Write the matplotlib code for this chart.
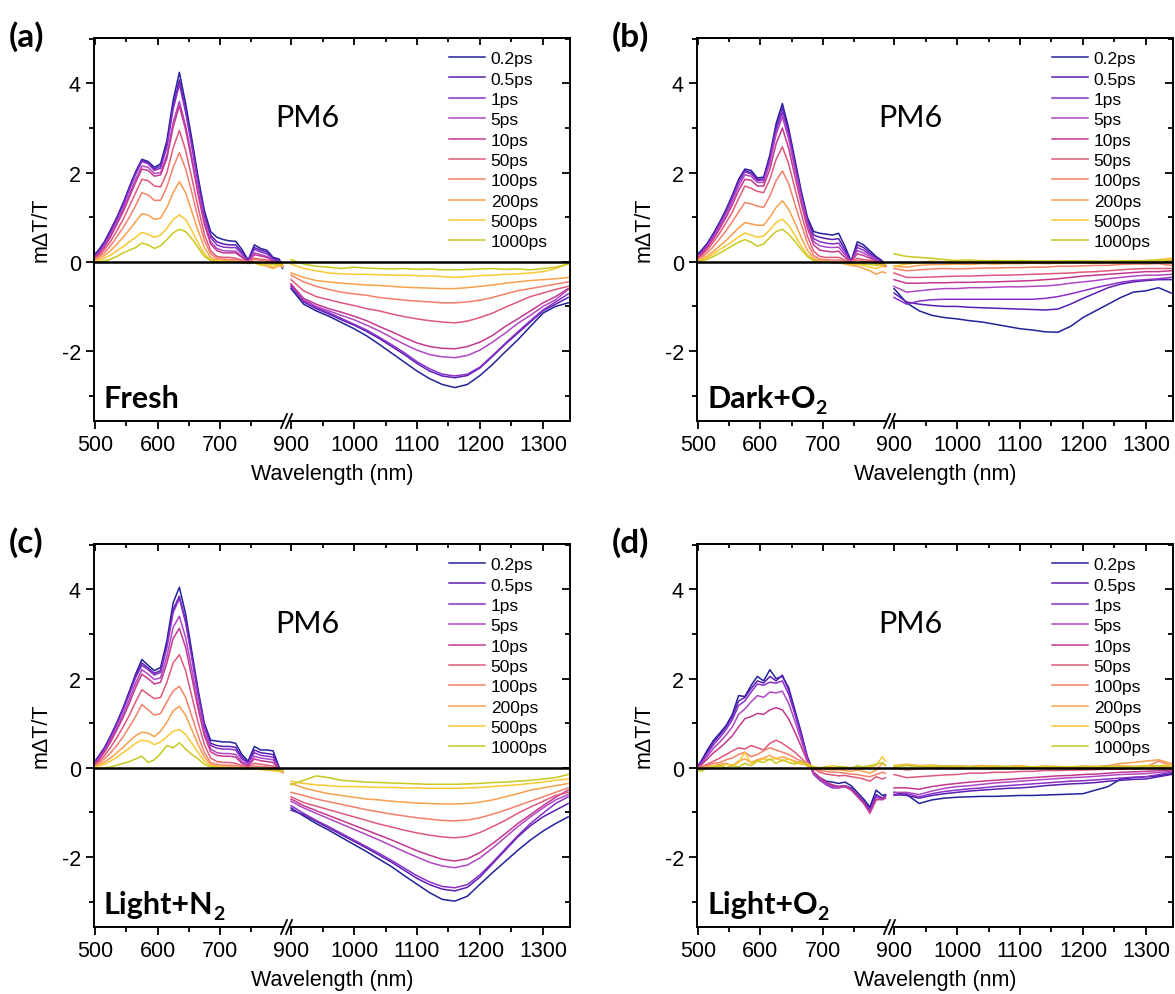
import matplotlib.pyplot as plt
from matplotlib.lines import Line2D
from matplotlib.patches import Rectangle
from matplotlib.ticker import MultipleLocator

plt.rcParams['font.family'] = ['Liberation Sans', 'DejaVu Sans']
plt.rcParams['axes.unicode_minus'] = False

# delay times and their colours
TIMES = ['0.2ps', '0.5ps', '1ps', '5ps', '10ps', '50ps', '100ps', '200ps', '500ps', '1000ps']
COLORS = ['#22229a', '#5a1fb4', '#8a30c8', '#b046c4', '#c43890',
          '#e0587a', '#f5806a', '#f8a04c', '#f9c832', '#c8c81e']

# wavelength grids (nm) of the visible and NIR probe windows
VIS_WL = [500, 505, 515, 525, 535, 545, 555, 565,
          575, 585, 595, 605, 615, 625, 635, 645,
          655, 665, 675, 685, 695, 705, 715, 725,
          735, 745, 755, 765, 775, 785, 795, 800]
NIR_WL = [900, 920, 940, 960, 980, 1000, 1020, 1040,
          1060, 1080, 1100, 1120, 1140, 1160, 1180, 1200,
          1220, 1240, 1260, 1280, 1300, 1320, 1340]

# (a) Fresh
FRESH_VIS = [
    [0.18, 0.25, 0.45, 0.72, 1.00, 1.32, 1.68, 2.02, 2.30, 2.25, 2.12, 2.20, 2.72, 3.62, 4.25, 3.55,
     2.75, 1.90, 1.15, 0.68, 0.55, 0.50, 0.47, 0.46, 0.28, 0.04, 0.38, 0.30, 0.26, 0.10, 0.06, -0.15],
    [0.15, 0.22, 0.42, 0.70, 0.98, 1.30, 1.66, 2.00, 2.28, 2.22, 2.08, 2.15, 2.62, 3.50, 4.08, 3.42,
     2.65, 1.82, 1.08, 0.60, 0.45, 0.40, 0.38, 0.38, 0.22, 0.02, 0.32, 0.26, 0.22, 0.08, 0.02, -0.12],
    [0.14, 0.20, 0.40, 0.66, 0.95, 1.26, 1.62, 1.96, 2.25, 2.20, 2.05, 2.10, 2.58, 3.42, 3.98, 3.35,
     2.58, 1.76, 1.02, 0.55, 0.38, 0.33, 0.32, 0.32, 0.18, 0.00, 0.28, 0.22, 0.18, 0.05, 0.00, -0.10],
    [0.12, 0.18, 0.36, 0.60, 0.88, 1.18, 1.52, 1.85, 2.15, 2.12, 1.98, 2.00, 2.40, 3.12, 3.60, 3.05,
     2.35, 1.58, 0.90, 0.45, 0.30, 0.25, 0.24, 0.24, 0.12, 0.00, 0.20, 0.16, 0.12, 0.02, -0.02, -0.10],
    [0.10, 0.16, 0.33, 0.56, 0.84, 1.12, 1.45, 1.78, 2.08, 2.05, 1.92, 1.95, 2.32, 3.02, 3.50, 2.96,
     2.26, 1.50, 0.84, 0.40, 0.25, 0.20, 0.20, 0.20, 0.10, 0.00, 0.16, 0.13, 0.10, 0.00, -0.03, -0.10],
    [0.08, 0.12, 0.27, 0.46, 0.70, 0.95, 1.25, 1.55, 1.85, 1.82, 1.70, 1.68, 2.00, 2.55, 2.95, 2.50,
     1.88, 1.22, 0.62, 0.25, 0.12, 0.10, 0.10, 0.08, 0.04, 0.00, 0.08, 0.06, 0.04, -0.02, -0.05, -0.08],
    [0.06, 0.10, 0.20, 0.36, 0.56, 0.77, 1.00, 1.26, 1.55, 1.50, 1.38, 1.38, 1.68, 2.12, 2.45, 2.08,
     1.55, 0.98, 0.48, 0.18, 0.08, 0.06, 0.05, 0.05, 0.02, 0.00, 0.05, 0.03, 0.02, -0.05, -0.08, -0.10],
    [0.04, 0.06, 0.14, 0.25, 0.40, 0.55, 0.72, 0.90, 1.08, 1.05, 0.95, 0.98, 1.22, 1.55, 1.80, 1.55,
     1.12, 0.70, 0.32, 0.10, 0.04, 0.03, 0.02, 0.02, 0.00, -0.02, 0.00, -0.05, -0.10, -0.15, -0.08, -0.12],
    [0.02, 0.03, 0.08, 0.15, 0.25, 0.34, 0.45, 0.55, 0.66, 0.62, 0.55, 0.60, 0.75, 0.95, 1.05, 0.95,
     0.70, 0.42, 0.18, 0.05, 0.02, 0.02, 0.00, 0.00, -0.02, -0.03, -0.02, -0.08, -0.05, -0.12, -0.06, -0.08],
    [0.00, 0.00, 0.02, 0.06, 0.12, 0.20, 0.26, 0.32, 0.42, 0.38, 0.30, 0.36, 0.50, 0.65, 0.73, 0.68,
     0.52, 0.32, 0.12, 0.03, 0.00, 0.00, 0.00, 0.00, -0.02, -0.04, -0.02, -0.05, -0.04, -0.06, -0.05, -0.06],
]
FRESH_NIR = [
    [-0.60, -0.95, -1.10, -1.22, -1.36, -1.50, -1.66, -1.85, -2.05, -2.25, -2.45, -2.62,
     -2.75, -2.82, -2.75, -2.55, -2.30, -2.02, -1.75, -1.45, -1.15, -1.00, -0.92],
    [-0.55, -0.90, -1.05, -1.17, -1.30, -1.42, -1.56, -1.72, -1.90, -2.08, -2.28, -2.45,
     -2.56, -2.60, -2.55, -2.38, -2.12, -1.85, -1.60, -1.35, -1.10, -0.95, -0.80],
    [-0.55, -0.88, -1.02, -1.14, -1.27, -1.40, -1.53, -1.69, -1.86, -2.04, -2.24, -2.40,
     -2.52, -2.56, -2.52, -2.36, -2.10, -1.83, -1.57, -1.32, -1.08, -0.90, -0.72],
    [-0.50, -0.85, -1.00, -1.10, -1.20, -1.30, -1.42, -1.55, -1.70, -1.85, -1.98, -2.08,
     -2.13, -2.15, -2.10, -1.98, -1.80, -1.60, -1.38, -1.20, -1.00, -0.85, -0.62],
    [-0.50, -0.82, -0.95, -1.05, -1.13, -1.22, -1.32, -1.45, -1.57, -1.70, -1.82, -1.90,
     -1.94, -1.95, -1.90, -1.80, -1.65, -1.45, -1.28, -1.10, -0.92, -0.78, -0.60],
    [-0.40, -0.65, -0.78, -0.85, -0.92, -0.98, -1.05, -1.10, -1.17, -1.23, -1.28, -1.32,
     -1.35, -1.37, -1.33, -1.25, -1.15, -1.02, -0.90, -0.78, -0.70, -0.62, -0.55],
    [-0.30, -0.45, -0.55, -0.62, -0.68, -0.72, -0.75, -0.80, -0.83, -0.86, -0.88, -0.90,
     -0.92, -0.92, -0.90, -0.86, -0.80, -0.72, -0.65, -0.60, -0.55, -0.50, -0.45],
    [-0.25, -0.35, -0.42, -0.45, -0.48, -0.50, -0.52, -0.53, -0.55, -0.57, -0.58, -0.59,
     -0.60, -0.60, -0.58, -0.55, -0.52, -0.48, -0.45, -0.42, -0.40, -0.38, -0.35],
    [-0.05, -0.15, -0.20, -0.25, -0.27, -0.28, -0.28, -0.29, -0.30, -0.30, -0.31, -0.32,
     -0.33, -0.35, -0.33, -0.31, -0.30, -0.28, -0.27, -0.25, -0.22, -0.15, -0.05],
    [0.05, -0.05, -0.10, -0.12, -0.15, -0.12, -0.14, -0.15, -0.16, -0.15, -0.17, -0.16,
     -0.18, -0.18, -0.17, -0.16, -0.15, -0.17, -0.16, -0.18, -0.15, -0.12, -0.05],
]

# (b) Dark + O2
DARK_O2_VIS = [
    [0.18, 0.25, 0.42, 0.65, 0.90, 1.18, 1.50, 1.85, 2.08, 2.05, 1.88, 1.90, 2.40, 3.10, 3.55, 3.00,
     2.30, 1.60, 1.00, 0.68, 0.64, 0.62, 0.60, 0.64, 0.35, 0.02, 0.45, 0.38, 0.25, 0.12, 0.02, -0.10],
    [0.15, 0.22, 0.40, 0.62, 0.88, 1.15, 1.47, 1.82, 2.05, 2.00, 1.85, 1.86, 2.35, 3.02, 3.45, 2.92,
     2.22, 1.55, 0.95, 0.60, 0.55, 0.52, 0.50, 0.52, 0.28, 0.00, 0.38, 0.32, 0.20, 0.10, 0.00, -0.10],
    [0.14, 0.20, 0.38, 0.60, 0.85, 1.12, 1.43, 1.78, 2.02, 1.97, 1.82, 1.83, 2.28, 2.94, 3.35, 2.85,
     2.15, 1.50, 0.90, 0.52, 0.45, 0.42, 0.40, 0.42, 0.22, 0.00, 0.32, 0.26, 0.16, 0.06, -0.02, -0.10],
    [0.12, 0.18, 0.35, 0.56, 0.80, 1.06, 1.36, 1.70, 1.95, 1.92, 1.78, 1.78, 2.22, 2.86, 3.25, 2.76,
     2.08, 1.44, 0.84, 0.45, 0.36, 0.33, 0.32, 0.33, 0.16, 0.00, 0.25, 0.20, 0.12, 0.04, -0.04, -0.10],
    [0.10, 0.16, 0.32, 0.52, 0.75, 1.00, 1.28, 1.60, 1.85, 1.83, 1.70, 1.70, 2.08, 2.65, 3.00, 2.55,
     1.92, 1.32, 0.76, 0.38, 0.26, 0.24, 0.22, 0.24, 0.10, 0.00, 0.18, 0.14, 0.08, 0.02, -0.05, -0.10],
    [0.08, 0.13, 0.27, 0.45, 0.65, 0.88, 1.12, 1.42, 1.70, 1.65, 1.58, 1.55, 1.85, 2.30, 2.58, 2.20,
     1.65, 1.10, 0.58, 0.24, 0.12, 0.10, 0.10, 0.10, 0.04, 0.00, 0.08, 0.05, 0.03, 0.00, -0.05, -0.08],
    [0.06, 0.10, 0.20, 0.35, 0.52, 0.70, 0.90, 1.12, 1.33, 1.30, 1.25, 1.22, 1.48, 1.82, 2.04, 1.75,
     1.30, 0.85, 0.42, 0.14, 0.06, 0.05, 0.04, 0.04, 0.02, 0.00, 0.04, 0.02, 0.00, -0.05, -0.08, -0.10],
    [0.04, 0.06, 0.13, 0.24, 0.36, 0.48, 0.62, 0.76, 0.88, 0.85, 0.82, 0.82, 1.00, 1.22, 1.37, 1.18,
     0.88, 0.55, 0.26, 0.08, 0.02, 0.02, 0.00, -0.02, -0.05, -0.08, -0.10, -0.15, -0.20, -0.28, -0.22, -0.25],
    [0.02, 0.04, 0.10, 0.18, 0.28, 0.36, 0.46, 0.56, 0.65, 0.60, 0.55, 0.58, 0.72, 0.88, 0.96, 0.82,
     0.60, 0.36, 0.16, 0.04, 0.00, 0.00, -0.02, -0.02, -0.04, -0.05, -0.06, -0.08, -0.12, -0.15, -0.10, -0.12],
    [0.00, 0.02, 0.06, 0.12, 0.20, 0.28, 0.36, 0.44, 0.50, 0.44, 0.35, 0.40, 0.55, 0.68, 0.73, 0.62,
     0.46, 0.28, 0.12, 0.03, 0.00, 0.00, -0.02, -0.02, -0.03, -0.04, -0.04, -0.05, -0.06, -0.08, -0.05, -0.06],
]
DARK_O2_NIR = [
    [-0.60, -0.92, -1.10, -1.20, -1.25, -1.28, -1.32, -1.35, -1.40, -1.45, -1.50, -1.53,
     -1.57, -1.58, -1.45, -1.25, -1.10, -0.95, -0.80, -0.68, -0.65, -0.58, -0.70],
    [-0.70, -0.90, -0.95, -0.98, -1.00, -1.00, -1.02, -1.03, -1.04, -1.05, -1.06, -1.07,
     -1.08, -1.06, -0.95, -0.82, -0.70, -0.58, -0.50, -0.45, -0.42, -0.40, -0.40],
    [-0.80, -0.95, -0.88, -0.85, -0.84, -0.84, -0.84, -0.84, -0.84, -0.84, -0.84, -0.84,
     -0.82, -0.78, -0.72, -0.65, -0.58, -0.52, -0.46, -0.42, -0.40, -0.38, -0.35],
    [-0.55, -0.68, -0.65, -0.62, -0.60, -0.60, -0.58, -0.58, -0.57, -0.56, -0.56, -0.55,
     -0.54, -0.52, -0.48, -0.45, -0.42, -0.38, -0.35, -0.32, -0.30, -0.30, -0.28],
    [-0.40, -0.48, -0.48, -0.47, -0.47, -0.46, -0.46, -0.45, -0.45, -0.44, -0.43, -0.42,
     -0.40, -0.38, -0.35, -0.32, -0.30, -0.28, -0.26, -0.24, -0.22, -0.22, -0.20],
    [-0.25, -0.35, -0.35, -0.34, -0.33, -0.32, -0.32, -0.31, -0.30, -0.30, -0.29, -0.28,
     -0.27, -0.26, -0.25, -0.23, -0.22, -0.20, -0.18, -0.16, -0.15, -0.15, -0.15],
    [-0.15, -0.20, -0.18, -0.16, -0.15, -0.16, -0.15, -0.14, -0.14, -0.13, -0.13, -0.12,
     -0.12, -0.10, -0.10, -0.09, -0.08, -0.08, -0.06, -0.05, -0.05, -0.04, -0.08],
    [-0.10, -0.12, -0.08, -0.06, -0.06, -0.05, -0.06, -0.04, -0.05, -0.04, -0.04, -0.03,
     -0.04, -0.03, -0.02, -0.02, -0.03, -0.02, -0.02, -0.01, 0.00, 0.02, 0.05],
    [-0.10, -0.05, -0.02, 0.02, 0.00, 0.03, 0.02, 0.03, 0.01, 0.02, 0.01, 0.02,
     0.00, 0.02, 0.01, 0.02, 0.00, 0.02, 0.01, 0.03, 0.02, 0.05, 0.08],
    [0.18, 0.12, 0.10, 0.08, 0.05, 0.03, 0.04, 0.02, 0.03, 0.02, 0.03, 0.01,
     0.02, 0.01, 0.02, 0.01, 0.02, 0.00, 0.02, 0.01, 0.03, 0.04, 0.02],
]

# (c) Light + N2
LIGHT_N2_VIS = [
    [0.15, 0.25, 0.45, 0.72, 1.02, 1.35, 1.72, 2.10, 2.43, 2.30, 2.18, 2.25, 2.85, 3.70, 4.05, 3.45,
     2.60, 1.75, 1.00, 0.62, 0.60, 0.58, 0.58, 0.55, 0.30, 0.15, 0.48, 0.40, 0.40, 0.38, 0.00, -0.10],
    [0.13, 0.23, 0.43, 0.70, 1.00, 1.32, 1.68, 2.06, 2.35, 2.24, 2.12, 2.18, 2.75, 3.55, 3.85, 3.30,
     2.50, 1.68, 0.95, 0.55, 0.50, 0.48, 0.48, 0.46, 0.24, 0.12, 0.40, 0.34, 0.32, 0.30, -0.02, -0.10],
    [0.12, 0.22, 0.42, 0.68, 0.98, 1.30, 1.65, 2.02, 2.30, 2.20, 2.08, 2.14, 2.70, 3.48, 3.80, 3.25,
     2.46, 1.64, 0.92, 0.50, 0.44, 0.42, 0.42, 0.40, 0.20, 0.10, 0.34, 0.28, 0.26, 0.24, -0.03, -0.10],
    [0.10, 0.18, 0.38, 0.62, 0.90, 1.20, 1.54, 1.90, 2.20, 2.10, 1.98, 2.02, 2.50, 3.15, 3.40, 2.92,
     2.20, 1.45, 0.80, 0.42, 0.34, 0.32, 0.32, 0.30, 0.14, 0.06, 0.26, 0.22, 0.20, 0.18, -0.04, -0.10],
    [0.09, 0.16, 0.35, 0.58, 0.85, 1.13, 1.45, 1.80, 2.10, 2.00, 1.88, 1.92, 2.35, 2.90, 3.13, 2.70,
     2.02, 1.32, 0.72, 0.36, 0.28, 0.26, 0.26, 0.24, 0.10, 0.04, 0.20, 0.16, 0.14, 0.12, -0.05, -0.10],
    [0.07, 0.12, 0.27, 0.46, 0.68, 0.92, 1.18, 1.48, 1.75, 1.65, 1.55, 1.58, 1.92, 2.35, 2.54, 2.18,
     1.60, 1.02, 0.52, 0.22, 0.14, 0.12, 0.12, 0.10, 0.05, 0.02, 0.10, 0.08, 0.06, 0.04, -0.05, -0.08],
    [0.05, 0.09, 0.20, 0.34, 0.50, 0.70, 0.92, 1.15, 1.42, 1.30, 1.18, 1.22, 1.48, 1.72, 1.83, 1.58,
     1.15, 0.72, 0.34, 0.12, 0.08, 0.06, 0.06, 0.05, 0.02, 0.00, 0.04, 0.03, 0.02, 0.00, -0.05, -0.08],
    [0.03, 0.06, 0.13, 0.22, 0.34, 0.46, 0.60, 0.72, 0.80, 0.78, 0.70, 0.82, 1.02, 1.28, 1.38, 1.18,
     0.85, 0.52, 0.24, 0.08, 0.04, 0.03, 0.02, 0.02, 0.00, -0.02, 0.00, -0.02, -0.04, -0.06, -0.08, -0.10],
    [0.02, 0.04, 0.08, 0.15, 0.24, 0.34, 0.44, 0.55, 0.62, 0.60, 0.52, 0.58, 0.70, 0.82, 0.86, 0.75,
     0.55, 0.34, 0.15, 0.04, 0.02, 0.02, 0.00, 0.00, -0.02, -0.03, -0.02, -0.04, -0.05, -0.06, -0.08, -0.10],
    [0.00, 0.00, 0.00, 0.02, 0.06, 0.10, 0.14, 0.20, 0.26, 0.12, 0.18, 0.32, 0.50, 0.45, 0.56, 0.42,
     0.30, 0.20, 0.08, 0.02, 0.00, 0.00, 0.00, -0.01, -0.02, -0.02, -0.03, -0.02, -0.03, -0.04, -0.05, -0.06],
]
LIGHT_N2_NIR = [
    [-0.90, -1.08, -1.25, -1.40, -1.56, -1.72, -1.88, -2.05, -2.22, -2.42, -2.61, -2.80,
     -2.95, -2.99, -2.88, -2.61, -2.35, -2.10, -1.85, -1.62, -1.42, -1.25, -1.10],
    [-0.95, -1.05, -1.20, -1.35, -1.50, -1.65, -1.80, -1.96, -2.12, -2.30, -2.48, -2.62,
     -2.72, -2.76, -2.68, -2.45, -2.15, -1.85, -1.55, -1.30, -1.10, -0.95, -0.80],
    [-0.85, -1.02, -1.18, -1.32, -1.47, -1.62, -1.77, -1.92, -2.08, -2.25, -2.42, -2.56,
     -2.66, -2.69, -2.62, -2.40, -2.12, -1.82, -1.52, -1.25, -1.02, -0.80, -0.65],
    [-0.75, -0.90, -1.02, -1.14, -1.26, -1.38, -1.50, -1.62, -1.75, -1.88, -2.00, -2.12,
     -2.20, -2.24, -2.18, -2.02, -1.80, -1.56, -1.32, -1.10, -0.90, -0.72, -0.60],
    [-0.70, -0.85, -0.96, -1.07, -1.18, -1.29, -1.40, -1.51, -1.62, -1.74, -1.86, -1.96,
     -2.05, -2.09, -2.04, -1.90, -1.70, -1.48, -1.25, -1.05, -0.85, -0.66, -0.50],
    [-0.65, -0.78, -0.86, -0.94, -1.02, -1.10, -1.18, -1.26, -1.33, -1.40, -1.46, -1.51,
     -1.55, -1.57, -1.54, -1.45, -1.32, -1.18, -1.02, -0.88, -0.75, -0.62, -0.55],
    [-0.55, -0.62, -0.70, -0.76, -0.82, -0.88, -0.94, -0.99, -1.04, -1.08, -1.12, -1.15,
     -1.18, -1.19, -1.17, -1.12, -1.04, -0.95, -0.85, -0.75, -0.65, -0.55, -0.45],
    [-0.35, -0.45, -0.52, -0.58, -0.62, -0.66, -0.70, -0.72, -0.75, -0.77, -0.79, -0.80,
     -0.81, -0.81, -0.80, -0.77, -0.72, -0.65, -0.58, -0.50, -0.45, -0.40, -0.35],
    [-0.30, -0.35, -0.38, -0.40, -0.42, -0.42, -0.43, -0.44, -0.44, -0.45, -0.45, -0.46,
     -0.46, -0.46, -0.45, -0.44, -0.42, -0.40, -0.38, -0.35, -0.32, -0.28, -0.25],
    [-0.38, -0.28, -0.18, -0.22, -0.28, -0.30, -0.32, -0.33, -0.34, -0.35, -0.36, -0.37,
     -0.37, -0.37, -0.36, -0.35, -0.33, -0.32, -0.30, -0.28, -0.25, -0.22, -0.15],
]

# (d) Light + O2
LIGHT_O2_VIS = [
    [0.05, 0.15, 0.40, 0.62, 0.78, 0.95, 1.20, 1.62, 1.60, 1.85, 2.05, 1.95, 2.20, 2.00, 2.05, 1.80,
     1.30, 0.80, 0.25, -0.10, -0.22, -0.30, -0.32, -0.35, -0.32, -0.40, -0.55, -0.70, -0.88, -0.50, -0.62, -0.60],
    [0.04, 0.12, 0.36, 0.58, 0.74, 0.92, 1.15, 1.50, 1.58, 1.78, 1.95, 1.90, 2.05, 1.95, 2.08, 1.75,
     1.25, 0.75, 0.22, -0.12, -0.25, -0.35, -0.40, -0.42, -0.40, -0.45, -0.60, -0.75, -0.92, -0.60, -0.68, -0.62],
    [0.03, 0.10, 0.32, 0.52, 0.68, 0.86, 1.08, 1.40, 1.50, 1.70, 1.88, 1.85, 1.92, 1.90, 1.95, 1.65,
     1.20, 0.72, 0.20, -0.15, -0.28, -0.38, -0.45, -0.45, -0.42, -0.48, -0.62, -0.78, -0.95, -0.65, -0.70, -0.65],
    [0.02, 0.08, 0.26, 0.44, 0.58, 0.74, 0.92, 1.20, 1.32, 1.48, 1.62, 1.58, 1.70, 1.68, 1.72, 1.45,
     1.05, 0.62, 0.18, -0.12, -0.25, -0.36, -0.42, -0.45, -0.42, -0.50, -0.65, -0.80, -1.00, -0.70, -0.72, -0.68],
    [0.02, 0.06, 0.20, 0.34, 0.45, 0.58, 0.72, 0.92, 1.10, 1.15, 1.22, 1.20, 1.30, 1.35, 1.30, 1.10,
     0.80, 0.48, 0.14, -0.10, -0.22, -0.32, -0.38, -0.42, -0.40, -0.48, -0.62, -0.78, -1.02, -0.72, -0.70, -0.65],
    [0.00, 0.02, 0.08, 0.15, 0.22, 0.30, 0.38, 0.45, 0.42, 0.50, 0.45, 0.40, 0.55, 0.62, 0.55, 0.45,
     0.35, 0.22, 0.08, -0.02, -0.10, -0.14, -0.16, -0.18, -0.17, -0.20, -0.22, -0.25, -0.30, -0.20, -0.25, -0.22],
    [0.00, 0.02, 0.05, 0.10, 0.12, 0.18, 0.22, 0.30, 0.35, 0.25, 0.30, 0.38, 0.45, 0.40, 0.35, 0.30,
     0.22, 0.15, 0.05, -0.02, -0.06, -0.08, -0.10, -0.10, -0.12, -0.14, -0.15, -0.18, -0.20, -0.15, -0.10, -0.12],
    [-0.02, 0.00, 0.02, 0.05, 0.08, 0.10, 0.05, 0.15, 0.20, 0.12, 0.18, 0.22, 0.28, 0.20, 0.25, 0.20,
     0.15, 0.10, 0.05, 0.00, -0.02, -0.03, -0.05, -0.04, -0.06, -0.08, -0.05, -0.08, -0.12, -0.05, 0.10, 0.05],
    [-0.05, -0.02, 0.00, 0.05, 0.02, 0.08, 0.05, 0.12, 0.35, 0.10, 0.15, 0.20, 0.18, 0.22, 0.15, 0.20,
     0.12, 0.08, 0.10, 0.02, 0.00, 0.02, 0.05, 0.02, 0.00, -0.02, 0.05, 0.00, 0.02, 0.05, 0.25, 0.15],
    [-0.05, -0.08, 0.00, 0.02, 0.05, 0.00, 0.05, 0.02, 0.10, 0.05, 0.15, 0.12, 0.20, 0.10, 0.18, 0.12,
     0.08, 0.15, 0.05, 0.02, 0.00, 0.02, 0.00, 0.03, 0.02, 0.00, 0.04, 0.02, 0.05, 0.08, 0.12, 0.05],
]
LIGHT_O2_NIR = [
    [-0.55, -0.60, -0.80, -0.72, -0.68, -0.66, -0.65, -0.64, -0.64, -0.63, -0.62, -0.62,
     -0.61, -0.60, -0.59, -0.58, -0.50, -0.42, -0.25, -0.22, -0.20, -0.18, -0.13],
    [-0.60, -0.62, -0.68, -0.62, -0.58, -0.55, -0.52, -0.50, -0.48, -0.46, -0.45, -0.43,
     -0.40, -0.38, -0.36, -0.35, -0.33, -0.30, -0.28, -0.26, -0.25, -0.20, -0.15],
    [-0.62, -0.58, -0.65, -0.58, -0.53, -0.50, -0.47, -0.45, -0.42, -0.40, -0.38, -0.36,
     -0.34, -0.32, -0.30, -0.29, -0.27, -0.25, -0.23, -0.21, -0.20, -0.15, -0.10],
    [-0.55, -0.55, -0.60, -0.52, -0.46, -0.42, -0.40, -0.37, -0.34, -0.32, -0.30, -0.28,
     -0.26, -0.24, -0.22, -0.21, -0.19, -0.17, -0.15, -0.14, -0.13, -0.10, -0.08],
    [-0.45, -0.45, -0.48, -0.42, -0.38, -0.35, -0.32, -0.30, -0.28, -0.26, -0.24, -0.22,
     -0.20, -0.18, -0.17, -0.15, -0.14, -0.12, -0.10, -0.09, -0.08, -0.06, -0.05],
    [-0.15, -0.22, -0.20, -0.18, -0.16, -0.15, -0.12, -0.12, -0.10, -0.10, -0.08, -0.08,
     -0.06, -0.06, -0.05, -0.05, -0.04, -0.03, -0.03, -0.02, -0.02, 0.00, 0.00],
    [0.00, -0.05, -0.02, 0.00, 0.02, 0.00, 0.02, 0.05, 0.00, 0.02, 0.00, 0.01,
     0.02, 0.00, 0.02, 0.01, 0.00, 0.02, 0.05, 0.03, 0.02, 0.15, 0.05],
    [0.05, 0.08, 0.05, 0.06, 0.04, 0.05, 0.03, 0.05, 0.04, 0.03, 0.05, 0.02,
     0.04, 0.03, 0.02, 0.04, 0.03, 0.05, 0.10, 0.12, 0.15, 0.18, 0.10],
    [0.05, 0.06, 0.04, 0.05, 0.03, 0.04, 0.02, 0.03, 0.04, 0.02, 0.03, 0.02,
     0.03, 0.02, 0.03, 0.02, 0.03, 0.02, 0.04, 0.03, 0.05, 0.05, 0.06],
    [0.02, 0.05, 0.03, 0.02, 0.04, 0.02, 0.03, 0.01, 0.02, 0.03, 0.01, 0.02,
     0.01, 0.02, 0.01, 0.02, 0.01, 0.03, 0.02, 0.02, 0.03, 0.04, 0.02],
]

W, H = 1175, 995
fig = plt.figure(figsize=(W / 100, H / 100), dpi=100)


def box(left, top, width, height):
    # pixel box (from top-left) -> figure fraction rect
    return [left / W, 1 - (top + height) / H, width / W, height / H]


def fxy(x, y):
    return x / W, 1 - y / H


panels = [
    ('(a)', 'Fresh', '', FRESH_VIS, FRESH_NIR, 0, 0),
    ('(b)', 'Dark+O', '2', DARK_O2_VIS, DARK_O2_NIR, 603, 0),
    ('(c)', 'Light+N', '2', LIGHT_N2_VIS, LIGHT_N2_NIR, 0, 506),
    ('(d)', 'Light+O', '2', LIGHT_O2_VIS, LIGHT_O2_NIR, 603, 506),
]

for tag, cond, sub, vis, nir, ox, oy in panels:
    ax_v = fig.add_axes(box(94 + ox, 39 + oy, 193, 383))
    ax_n = fig.add_axes(box(287 + ox, 39 + oy, 283, 383))

    for spec, col in zip(vis, COLORS):
        ax_v.plot(VIS_WL, spec, color=col, lw=1.1)
    for spec, col, lab in zip(nir, COLORS, TIMES):
        ax_n.plot(NIR_WL, spec, color=col, lw=1.1, label=lab)

    for ax in (ax_v, ax_n):
        ax.axhline(0, color='black', lw=1.8, zorder=5)
        ax.set_ylim(-3.57, 5.02)
        ax.yaxis.set_major_locator(MultipleLocator(2))
        ax.yaxis.set_minor_locator(MultipleLocator(1))
        for s in ax.spines.values():
            s.set_linewidth(1.4)
        ax.tick_params(which='both', width=1.3, labelsize=15.5)
        ax.tick_params(which='major', length=6)
        ax.tick_params(which='minor', length=3.5)

    ax_v.set_xlim(498.4, 807.2)
    ax_n.set_xlim(893.6, 1342.9)
    ax_v.spines['right'].set_visible(False)
    ax_n.spines['left'].set_visible(False)

    ax_v.set_xticks([500, 600, 700])
    ax_v.set_xticks([550, 650, 750], minor=True)
    ax_n.set_xticks([900, 1000, 1100, 1200, 1300])
    ax_n.set_xticks([950, 1050, 1150, 1250], minor=True)
    ax_v.tick_params(axis='x', which='both', direction='out', top=False)
    ax_n.tick_params(axis='x', which='both', direction='out', top=False)
    ax_v.tick_params(axis='y', which='both', direction='out', left=True, right=False)
    ax_n.tick_params(axis='y', which='both', direction='in', left=False, right=True,
                     labelleft=False, labelright=False)

    # inward ticks along the top edge
    for ax, maj, mnr in ((ax_v, [500, 600, 700], [550, 650, 750]),
                         (ax_n, [900, 1000, 1100, 1200, 1300], [950, 1050, 1150, 1250])):
        top = ax.secondary_xaxis('top')
        top.set_xticks(maj)
        top.set_xticks(mnr, minor=True)
        top.tick_params(which='both', direction='in', width=1.3, labeltop=False)
        top.tick_params(which='major', length=5)
        top.tick_params(which='minor', length=3)
        top.spines['top'].set_linewidth(1.4)

    ax_n.legend(loc='upper left', bbox_to_anchor=fxy(449 + ox, 52 + oy),
                bbox_transform=fig.transFigure, frameon=False, fontsize=12.5,
                handlelength=2.1, handletextpad=0.3, labelspacing=0.3,
                borderpad=0, borderaxespad=0)

    # axis break marks on the bottom edge
    fig.add_artist(Rectangle(fxy(284 + ox, 424 + oy), 5 / W, 5 / H,
                             transform=fig.transFigure, facecolor='white',
                             edgecolor='none', zorder=10))
    for dx in (0, 5):
        x0, y0 = fxy(281 + dx + ox, 429 + oy)
        x1, y1 = fxy(287 + dx + ox, 415 + oy)
        fig.add_artist(Line2D([x0, x1], [y0, y1], transform=fig.transFigure,
                              color='black', lw=1.3, zorder=11))

    fig.text(*fxy(9 + ox, 37 + oy), tag, fontsize=24, fontweight='bold',
             family='Lato', ha='left', va='center')
    fig.text(*fxy(307 + ox, 118 + oy), 'PM6', fontsize=22, family='Lato',
             ha='center', va='center')
    t = fig.text(*fxy(104 + ox, 408 + oy), cond, fontsize=22, fontweight='bold',
                 family='Lato', ha='left', va='baseline')
    if sub:
        ax_v.annotate(sub, xy=(1, 0), xycoords=t, xytext=(-0.5, 3.5),
                      textcoords='offset points', fontsize=14, fontweight='bold',
                      family='Lato', ha='left', va='center')

    fig.text(*fxy(41 + ox, 230 + oy), 'mΔT/T', rotation=90, fontsize=15.5,
             ha='center', va='center')
    fig.text(*fxy(332 + ox, 475 + oy), 'Wavelength (nm)', fontsize=15.5,
             ha='center', va='center')

fig.savefig('out.png', dpi=100)
